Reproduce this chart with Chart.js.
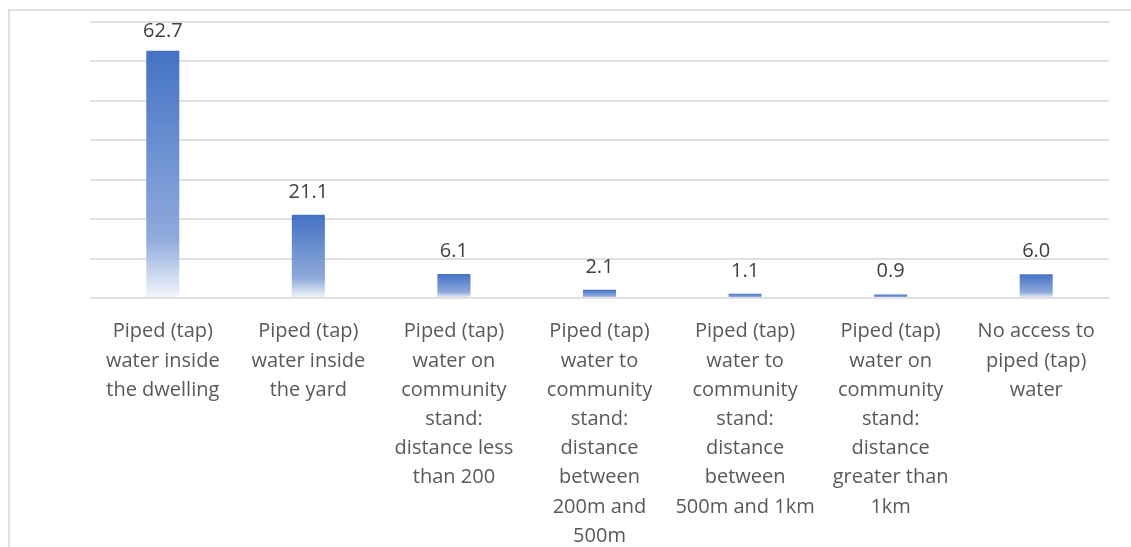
<!DOCTYPE html>
<html>
<head>
<meta charset="utf-8">
<title>Access to piped (tap) water</title>
<script src="https://cdn.jsdelivr.net/npm/chart.js@4/dist/chart.umd.min.js"></script>
<style>
  html, body { margin: 0; padding: 0; background: #fff; }
  #wrap { position: relative; width: 1131px; height: 547px; overflow: hidden; }
  #frame { position: absolute; left: 8px; top: 9px; width: 1200px; height: 700px;
           border: 2px solid #e0e0e0; box-sizing: border-box; }
  #c { position: absolute; left: 0; top: 0; }
</style>
</head>
<body>
<div id="wrap">
  <div id="frame"></div>
  <canvas id="c" width="1131" height="547"></canvas>
</div>
<script>
// Category labels, already broken into lines
const categories = [
  ['Piped (tap)', 'water inside', 'the dwelling'],
  ['Piped (tap)', 'water inside', 'the yard'],
  ['Piped (tap)', 'water on', 'community', 'stand:', 'distance less', 'than 200'],
  ['Piped (tap)', 'water to', 'community', 'stand:', 'distance', 'between', '200m and', '500m'],
  ['Piped (tap)', 'water to', 'community', 'stand:', 'distance', 'between', '500m and 1km'],
  ['Piped (tap)', 'water on', 'community', 'stand:', 'distance', 'greater than', '1km'],
  ['No access to', 'piped (tap)', 'water']
];

// Share of households (%)
const shares = [62.7, 21.1, 6.1, 2.1, 1.1, 0.9, 6.0];

// Value axis range
const axisMin = 0;
const axisMax = 70;
const axisStep = 10;

// Vertical fade for each bar: solid blue at the top, near white at the base
function barFill(context) {
  const chart = context.chart;
  const area = chart.chartArea;
  if (!area || context.raw == null) return '#4472C4';
  const y = chart.scales.y;
  const top = y.getPixelForValue(context.raw);
  const base = y.getPixelForValue(0);
  if (base - top < 1) return '#4472C4';
  const g = chart.ctx.createLinearGradient(0, top, 0, base);
  g.addColorStop(0, '#4472C4');
  g.addColorStop(0.76, '#8FAADC');
  g.addColorStop(1, '#F3F6FC');
  return g;
}

// Value written above each bar
const valueLabels = {
  id: 'valueLabels',
  afterDatasetsDraw(chart) {
    const ctx = chart.ctx;
    const meta = chart.getDatasetMeta(0);
    ctx.save();
    ctx.font = '20px "Open Sans"';
    ctx.fillStyle = '#404040';
    ctx.textAlign = 'center';
    ctx.textBaseline = 'alphabetic';
    meta.data.forEach((bar, i) => {
      const y = Math.max(bar.y - 17, chart.chartArea.top + 15);
      ctx.fillText(shares[i].toFixed(1), bar.x, y);
    });
    ctx.restore();
  }
};

new Chart(document.getElementById('c'), {
  type: 'bar',
  data: {
    labels: categories,
    datasets: [{
      data: shares,
      backgroundColor: barFill,
      borderWidth: 0,
      barPercentage: 0.227,
      categoryPercentage: 1
    }]
  },
  options: {
    responsive: false,
    animation: false,
    devicePixelRatio: 1,
    layout: { padding: { left: 0, right: 22, top: 22, bottom: 0 } },
    plugins: { legend: { display: false }, tooltip: { enabled: false } },
    scales: {
      x: {
        grid: { display: false, drawTicks: false },
        border: { display: false },
        ticks: {
          autoSkip: false,
          maxRotation: 0,
          minRotation: 0,
          padding: 19,
          color: '#595959',
          font: { family: '"Open Sans"', size: 20, lineHeight: 1.46 }
        },
        afterFit(scale) { scale.height = 249; }
      },
      y: {
        min: axisMin,
        max: axisMax,
        ticks: { display: false, stepSize: axisStep },
        grid: { color: '#e0e0e0', lineWidth: 2, drawTicks: false },
        border: { display: false },
        afterFit(scale) { scale.width = 90; }
      }
    }
  },
  plugins: [valueLabels]
});
</script>
</body>
</html>
